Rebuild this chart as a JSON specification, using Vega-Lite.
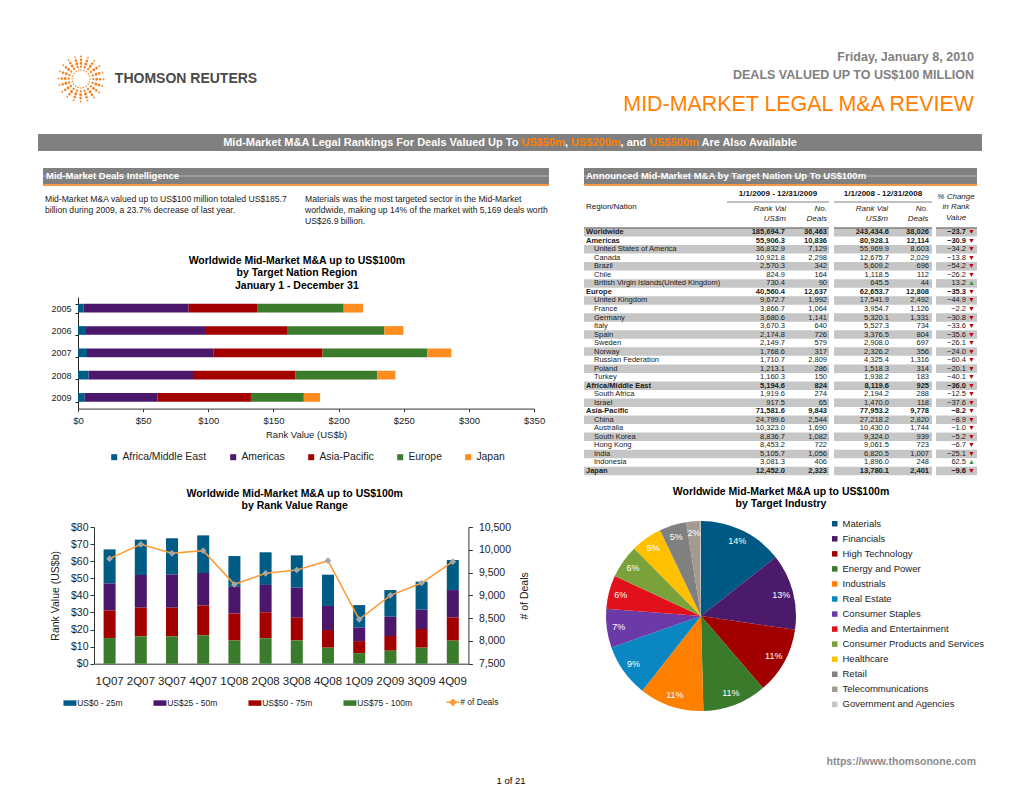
{
"$schema": "https://vega.github.io/schema/vega-lite/v6.json",
"padding": 0,
"background": "white",
"bounds": "flush",
"spacing": 0,
"config": {
  "font": "Liberation Sans",
  "view": {"stroke": null},
  "axis": {"domainColor": "#333333", "tickColor": "#333333", "labelColor": "#222222", "titleColor": "#222222", "grid": false},
  "title": {"color": "#000000"},
  "legend": {"labelColor": "#222222"}
},
"resolve": {"scale": {"color": "independent"}, "legend": {"color": "independent"}},
"datasets": {
  "regions": [
    {"year":"2005","region":"Africa/Middle East","value":4.3},{"year":"2005","region":"Americas","value":80.6},{"year":"2005","region":"Asia-Pacific","value":53.0},{"year":"2005","region":"Europe","value":66.0},{"year":"2005","region":"Japan","value":14.8},
    {"year":"2006","region":"Africa/Middle East","value":6.1},{"year":"2006","region":"Americas","value":92.1},{"year":"2006","region":"Asia-Pacific","value":62.2},{"year":"2006","region":"Europe","value":74.7},{"year":"2006","region":"Japan","value":14.6},
    {"year":"2007","region":"Africa/Middle East","value":6.9},{"year":"2007","region":"Americas","value":97.2},{"year":"2007","region":"Asia-Pacific","value":83.6},{"year":"2007","region":"Europe","value":80.4},{"year":"2007","region":"Japan","value":18.4},
    {"year":"2008","region":"Africa/Middle East","value":8.1},{"year":"2008","region":"Americas","value":80.9},{"year":"2008","region":"Asia-Pacific","value":78.0},{"year":"2008","region":"Europe","value":62.7},{"year":"2008","region":"Japan","value":13.8},
    {"year":"2009","region":"Africa/Middle East","value":5.2},{"year":"2009","region":"Americas","value":55.9},{"year":"2009","region":"Asia-Pacific","value":71.6},{"year":"2009","region":"Europe","value":40.6},{"year":"2009","region":"Japan","value":12.5}
  ],
  "quarters": [
    {"q":"1Q07","r":"US$0 - 25m","v":19.9},{"q":"1Q07","r":"US$25 - 50m","v":15.8},{"q":"1Q07","r":"US$50 - 75m","v":16.2},{"q":"1Q07","r":"US$75 - 100m","v":15.0},
    {"q":"2Q07","r":"US$0 - 25m","v":20.7},{"q":"2Q07","r":"US$25 - 50m","v":19.1},{"q":"2Q07","r":"US$50 - 75m","v":16.8},{"q":"2Q07","r":"US$75 - 100m","v":16.0},
    {"q":"3Q07","r":"US$0 - 25m","v":21.3},{"q":"3Q07","r":"US$25 - 50m","v":19.3},{"q":"3Q07","r":"US$50 - 75m","v":16.8},{"q":"3Q07","r":"US$75 - 100m","v":16.0},
    {"q":"4Q07","r":"US$0 - 25m","v":22.0},{"q":"4Q07","r":"US$25 - 50m","v":19.0},{"q":"4Q07","r":"US$50 - 75m","v":17.5},{"q":"4Q07","r":"US$75 - 100m","v":16.6},
    {"q":"1Q08","r":"US$0 - 25m","v":18.0},{"q":"1Q08","r":"US$25 - 50m","v":15.6},{"q":"1Q08","r":"US$50 - 75m","v":15.8},{"q":"1Q08","r":"US$75 - 100m","v":13.6},
    {"q":"2Q08","r":"US$0 - 25m","v":19.1},{"q":"2Q08","r":"US$25 - 50m","v":16.0},{"q":"2Q08","r":"US$50 - 75m","v":15.2},{"q":"2Q08","r":"US$75 - 100m","v":14.9},
    {"q":"3Q08","r":"US$0 - 25m","v":18.9},{"q":"3Q08","r":"US$25 - 50m","v":17.6},{"q":"3Q08","r":"US$50 - 75m","v":13.3},{"q":"3Q08","r":"US$75 - 100m","v":13.6},
    {"q":"4Q08","r":"US$0 - 25m","v":18.3},{"q":"4Q08","r":"US$25 - 50m","v":14.1},{"q":"4Q08","r":"US$50 - 75m","v":10.3},{"q":"4Q08","r":"US$75 - 100m","v":9.4},
    {"q":"1Q09","r":"US$0 - 25m","v":13.1},{"q":"1Q09","r":"US$25 - 50m","v":8.0},{"q":"1Q09","r":"US$50 - 75m","v":7.0},{"q":"1Q09","r":"US$75 - 100m","v":6.2},
    {"q":"2Q09","r":"US$0 - 25m","v":15.6},{"q":"2Q09","r":"US$25 - 50m","v":11.3},{"q":"2Q09","r":"US$50 - 75m","v":8.6},{"q":"2Q09","r":"US$75 - 100m","v":7.6},
    {"q":"3Q09","r":"US$0 - 25m","v":16.4},{"q":"3Q09","r":"US$25 - 50m","v":11.3},{"q":"3Q09","r":"US$50 - 75m","v":10.9},{"q":"3Q09","r":"US$75 - 100m","v":9.4},
    {"q":"4Q09","r":"US$0 - 25m","v":17.6},{"q":"4Q09","r":"US$25 - 50m","v":16.0},{"q":"4Q09","r":"US$50 - 75m","v":13.6},{"q":"4Q09","r":"US$75 - 100m","v":13.5}
  ],
  "deals": [
    {"q":"1Q07","n":9805},{"q":"2Q07","n":10120},{"q":"3Q07","n":9922},{"q":"4Q07","n":9981},
    {"q":"1Q08","n":9242},{"q":"2Q08","n":9483},{"q":"3Q08","n":9556},{"q":"4Q08","n":9761},
    {"q":"1Q09","n":8473},{"q":"2Q09","n":9000},{"q":"3Q09","n":9271},{"q":"4Q09","n":9739}
  ],
  "industry": [
    {"k":0,"ind":"Materials","share":0.144},
    {"k":1,"ind":"Financials","share":0.129},
    {"k":2,"ind":"High Technology","share":0.114},
    {"k":3,"ind":"Energy and Power","share":0.109},
    {"k":4,"ind":"Industrials","share":0.110},
    {"k":5,"ind":"Real Estate","share":0.090},
    {"k":6,"ind":"Consumer Staples","share":0.066},
    {"k":7,"ind":"Media and Entertainment","share":0.057},
    {"k":8,"ind":"Consumer Products and Services","share":0.057},
    {"k":9,"ind":"Healthcare","share":0.053},
    {"k":10,"ind":"Retail","share":0.046},
    {"k":11,"ind":"Telecommunications","share":0.023},
    {"k":12,"ind":"Government and Agencies","share":0.002}
  ],
  "table": [
    {"i":0,"name":"Worldwide","lvl":"R","rv09":185694.7,"nd09":36463,"rv08":243434.6,"nd08":38026,"pct":-23.7},
    {"i":1,"name":"Americas","lvl":"R","rv09":55906.3,"nd09":10836,"rv08":80928.1,"nd08":12114,"pct":-30.9},
    {"i":2,"name":"United States of America","lvl":"N","rv09":36832.9,"nd09":7129,"rv08":55969.9,"nd08":8603,"pct":-34.2},
    {"i":3,"name":"Canada","lvl":"N","rv09":10921.8,"nd09":2298,"rv08":12675.7,"nd08":2029,"pct":-13.8},
    {"i":4,"name":"Brazil","lvl":"N","rv09":2570.3,"nd09":342,"rv08":5609.2,"nd08":696,"pct":-54.2},
    {"i":5,"name":"Chile","lvl":"N","rv09":824.9,"nd09":164,"rv08":1118.5,"nd08":112,"pct":-26.2},
    {"i":6,"name":"British Virgin Islands(United Kingdom)","lvl":"N","rv09":730.4,"nd09":90,"rv08":645.5,"nd08":44,"pct":13.2},
    {"i":7,"name":"Europe","lvl":"R","rv09":40560.4,"nd09":12637,"rv08":62653.7,"nd08":12808,"pct":-35.3},
    {"i":8,"name":"United Kingdom","lvl":"N","rv09":9672.7,"nd09":1992,"rv08":17541.9,"nd08":2492,"pct":-44.9},
    {"i":9,"name":"France","lvl":"N","rv09":3866.7,"nd09":1064,"rv08":3954.7,"nd08":1126,"pct":-2.2},
    {"i":10,"name":"Germany","lvl":"N","rv09":3680.6,"nd09":1141,"rv08":5320.1,"nd08":1331,"pct":-30.8},
    {"i":11,"name":"Italy","lvl":"N","rv09":3670.3,"nd09":640,"rv08":5527.3,"nd08":734,"pct":-33.6},
    {"i":12,"name":"Spain","lvl":"N","rv09":2174.8,"nd09":726,"rv08":3376.5,"nd08":804,"pct":-35.6},
    {"i":13,"name":"Sweden","lvl":"N","rv09":2149.7,"nd09":579,"rv08":2908.0,"nd08":697,"pct":-26.1},
    {"i":14,"name":"Norway","lvl":"N","rv09":1768.6,"nd09":317,"rv08":2326.2,"nd08":356,"pct":-24.0},
    {"i":15,"name":"Russian Federation","lvl":"N","rv09":1710.7,"nd09":2809,"rv08":4325.4,"nd08":1316,"pct":-60.4},
    {"i":16,"name":"Poland","lvl":"N","rv09":1213.1,"nd09":286,"rv08":1518.3,"nd08":314,"pct":-20.1},
    {"i":17,"name":"Turkey","lvl":"N","rv09":1160.3,"nd09":150,"rv08":1938.2,"nd08":183,"pct":-40.1},
    {"i":18,"name":"Africa/Middle East","lvl":"R","rv09":5194.6,"nd09":824,"rv08":8119.6,"nd08":925,"pct":-36.0},
    {"i":19,"name":"South Africa","lvl":"N","rv09":1919.6,"nd09":274,"rv08":2194.2,"nd08":288,"pct":-12.5},
    {"i":20,"name":"Israel","lvl":"N","rv09":917.5,"nd09":65,"rv08":1470.0,"nd08":118,"pct":-37.6},
    {"i":21,"name":"Asia-Pacific","lvl":"R","rv09":71581.6,"nd09":9843,"rv08":77953.2,"nd08":9778,"pct":-8.2},
    {"i":22,"name":"China","lvl":"N","rv09":24799.6,"nd09":2544,"rv08":27218.2,"nd08":2820,"pct":-8.9},
    {"i":23,"name":"Australia","lvl":"N","rv09":10323.0,"nd09":1690,"rv08":10430.0,"nd08":1744,"pct":-1.0},
    {"i":24,"name":"South Korea","lvl":"N","rv09":8836.7,"nd09":1082,"rv08":9324.0,"nd08":939,"pct":-5.2},
    {"i":25,"name":"Hong Kong","lvl":"N","rv09":8453.2,"nd09":722,"rv08":9061.5,"nd08":723,"pct":-6.7},
    {"i":26,"name":"India","lvl":"N","rv09":5105.7,"nd09":1056,"rv08":6820.5,"nd08":1007,"pct":-25.1},
    {"i":27,"name":"Indonesia","lvl":"N","rv09":3081.3,"nd09":406,"rv08":1896.0,"nd08":248,"pct":62.5},
    {"i":28,"name":"Japan","lvl":"R","rv09":12452.0,"nd09":2323,"rv08":13780.1,"nd08":2401,"pct":-9.6}
  ]
},
"vconcat": [
  {"width": 10, "height": 56, "data": {"values": []}, "mark": "point"},
  {"hconcat": [
    {"width": 58, "height": 46, "data": {"values": []}, "mark": "point"},
    {"width": 46, "height": 46,
     "layer": [
       {"data": {"values": [{}]}, "mark": {"type": "arc", "theta": 0, "theta2": 6.2832, "outerRadius": 8.9, "filled": false, "stroke": "#f5821f", "strokeWidth": 1.5, "strokeDash": [0.01, 2.79], "strokeCap": "round"}, "encoding": {}},
       {"data": {"values": [{}]}, "mark": {"type": "arc", "theta": 0, "theta2": 6.2832, "outerRadius": 12.3, "filled": false, "stroke": "#f5821f", "strokeWidth": 2.3, "strokeDash": [0.01, 3.85], "strokeCap": "round"}, "encoding": {}},
       {"data": {"values": [{}]}, "mark": {"type": "arc", "theta": 0, "theta2": 6.2832, "outerRadius": 15.7, "filled": false, "stroke": "#f5821f", "strokeWidth": 3.0, "strokeDash": [0.01, 4.92], "strokeCap": "round"}, "encoding": {}},
       {"data": {"values": [{}]}, "mark": {"type": "arc", "theta": 0, "theta2": 6.2832, "outerRadius": 19.1, "filled": false, "stroke": "#f5821f", "strokeWidth": 2.6, "strokeDash": [0.01, 5.99], "strokeCap": "round"}, "encoding": {}},
       {"data": {"values": [{}]}, "mark": {"type": "arc", "theta": 0, "theta2": 6.2832, "outerRadius": 22.5, "filled": false, "stroke": "#f5821f", "strokeWidth": 1.8, "strokeDash": [0.01, 7.06], "strokeCap": "round"}, "encoding": {}}
     ]},
    {"width": 11, "height": 46, "data": {"values": []}, "mark": "point"},
    {"width": 142, "height": 46, "data": {"values": [{"t": "THOMSON REUTERS"}]},
     "mark": {"type": "text", "fontSize": 14, "fontWeight": "bold", "color": "#4a4a4a"},
     "encoding": {"text": {"field": "t"}}}
  ], "bounds": "flush", "spacing": 0},
  {"width": 10, "height": 78, "data": {"values": []}, "mark": "point"},
  {"hconcat": [
    {"width": 38, "height": 17, "data": {"values": []}, "mark": "point"},
    {"width": 944, "height": 17,
     "view": {"fill": "#808080"},
     "data": {"values": [{"t": "Mid-Market M&A Legal Rankings For Deals Valued Up To US$50m, US$200m, and US$500m Are Also Available"}]},
     "title": {"text": ["Friday, January 8, 2010", "DEALS VALUED UP TO US$100 MILLION"], "subtitle": "MID-MARKET LEGAL M&A REVIEW", "anchor": "end", "frame": "group", "dx": -8, "offset": 19, "fontSize": 12.5, "fontWeight": "bold", "color": "#7f7f7f", "lineHeight": 18, "subtitleFontSize": 21.4, "subtitleColor": "#ff8000", "subtitleFontWeight": "normal", "subtitlePadding": 12.5},
     "mark": {"type": "text", "fontSize": 11, "fontWeight": "bold",
       "fill": {"gradient": "linear", "x1": 0, "x2": 1, "y1": 0, "y2": 0, "stops": [
         {"offset": 0, "color": "#ffffff"}, {"offset": 0.521, "color": "#ffffff"},
         {"offset": 0.521, "color": "#ff8000"}, {"offset": 0.595, "color": "#ff8000"},
         {"offset": 0.595, "color": "#ffffff"}, {"offset": 0.607, "color": "#ffffff"},
         {"offset": 0.607, "color": "#ff8000"}, {"offset": 0.692, "color": "#ff8000"},
         {"offset": 0.692, "color": "#ffffff"}, {"offset": 0.743, "color": "#ffffff"},
         {"offset": 0.743, "color": "#ff8000"}, {"offset": 0.827, "color": "#ff8000"},
         {"offset": 0.827, "color": "#ffffff"}, {"offset": 1, "color": "#ffffff"}]}},
     "encoding": {"text": {"field": "t"}}}
  ], "bounds": "flush", "spacing": 0},
  {"width": 10, "height": 34, "data": {"values": []}, "mark": "point"},
  {"hconcat": [
    {"width": 43, "height": 1, "data": {"values": []}, "mark": "point"},
    {"vconcat": [
      {"width": 506, "height": 16, "view": {"fill": "#808080"}, "data": {"values": [{}]},
       "title": {"text": "Mid-Market Deals Intelligence", "orient": "bottom", "anchor": "start", "frame": "group", "baseline": "top", "offset": -13, "dx": 3, "fontSize": 9.5, "fontWeight": "bold", "color": "#ffffff"},
       "mark": {"type": "rule", "color": "#c4c4c4", "strokeWidth": 0.8},
       "encoding": {"y": {"datum": 0.5, "type": "quantitative", "scale": {"domain": [0, 1]}, "axis": null}}},
      {"width": 506, "height": 2, "view": {"fill": "#f79646"}, "data": {"values": []}, "mark": "point"},
      {"hconcat": [
        {"width": 2, "height": 1, "data": {"values": []}, "mark": "point"},
        {"width": 258, "height": 1, "data": {"values": []}, "mark": "point",
         "title": {"text": ["Mid-Market M&A valued up to US$100 million totaled US$185.7", "billion during 2009, a 23.7% decrease of last year."], "orient": "bottom", "anchor": "start", "frame": "group", "baseline": "top", "offset": 8, "fontSize": 8.6, "fontWeight": "normal", "lineHeight": 11, "color": "#222222"}},
        {"width": 2, "height": 1, "data": {"values": []}, "mark": "point"},
        {"width": 243, "height": 1, "data": {"values": []}, "mark": "point",
         "title": {"text": ["Materials was the most targeted sector in the Mid-Market", "worldwide, making up 14% of the market with 5,169 deals worth", "US$26.9 billion."], "orient": "bottom", "anchor": "start", "frame": "group", "baseline": "top", "offset": 8, "fontSize": 8.6, "fontWeight": "normal", "lineHeight": 11, "color": "#222222"}}
      ], "bounds": "flush", "spacing": 0},
      {"width": 1, "height": 110.7, "data": {"values": []}, "mark": "point"},
      {"hconcat": [
        {"width": 34.7, "height": 1, "data": {"values": []}, "mark": "point"},
        {"width": 456.1, "height": 111.6,
         "data": {"name": "regions"},
         "title": {"text": ["Worldwide Mid-Market M&A up to US$100m", "by Target Nation Region", "January 1 - December 31"], "fontSize": 10.5, "fontWeight": "bold", "lineHeight": 12.5, "anchor": "middle", "frame": "group", "dx": -9.2, "offset": 2},
         "mark": {"type": "bar"},
         "encoding": {
           "y": {"field": "year", "type": "ordinal", "scale": {"paddingInner": 0.61, "paddingOuter": 0.305}, "axis": {"title": null, "labelFontSize": 9, "labelPadding": 4, "tickSize": 3, "tickBand": "extent", "domainColor": "#222222", "tickColor": "#222222"}},
           "x": {"field": "value", "type": "quantitative", "stack": "zero", "scale": {"domain": [0, 350], "nice": false}, "axis": {"values": [0,50,100,150,200,250,300,350], "labelExpr": "'$' + datum.value", "title": "Rank Value (US$b)", "titleFontSize": 9.5, "titleFontWeight": "normal", "titlePadding": 4, "labelFontSize": 9.5, "labelPadding": 4, "tickSize": 3, "labelFlush": false, "labelOverlap": false}},
           "color": {"field": "region", "type": "nominal",
             "scale": {"domain": ["Africa/Middle East", "Americas", "Asia-Pacific", "Europe", "Japan"], "range": ["#005b85", "#4b176b", "#a30000", "#3b7b2c", "#ff8c1f"]},
             "legend": {"orient": "none", "legendX": 31, "legendY": 154.8, "direction": "horizontal", "title": null, "symbolType": "square", "symbolSize": 36, "labelFontSize": 10.4, "labelOffset": 3, "columnPadding": 21}}
         }}
      ], "bounds": "flush", "spacing": 0, "resolve": {"scale": {"color": "independent"}, "legend": {"color": "independent"}}}
    ], "bounds": "flush", "spacing": 0, "resolve": {"scale": {"color": "independent"}, "legend": {"color": "independent"}}},
    {"width": 541, "height": 1, "data": {"values": []}, "mark": "point"},
    {"vconcat": [
      {"width": 393, "height": 16, "view": {"fill": "#808080"}, "data": {"values": [{}]},
       "title": {"text": "Announced Mid-Market M&A by Target Nation Up To US$100m", "orient": "bottom", "anchor": "start", "frame": "group", "baseline": "top", "offset": -13, "dx": 2, "fontSize": 9.5, "fontWeight": "bold", "color": "#ffffff"},
       "mark": {"type": "rule", "color": "#c4c4c4", "strokeWidth": 0.8},
       "encoding": {"y": {"datum": 0.5, "type": "quantitative", "scale": {"domain": [0, 1]}, "axis": null}}},
      {"width": 393, "height": 2, "view": {"fill": "#f79646"}, "data": {"values": []}, "mark": "point"},
      {"hconcat": [
        {"vconcat": [
          {"width": 1, "height": 41.4, "data": {"values": []}, "mark": "point"},
          {"width": 143, "height": 247.2, "data": {"name": "table"},
           "title": {"text": "Region/Nation", "anchor": "start", "frame": "group", "dx": 2, "offset": 16.7, "fontSize": 8, "fontWeight": "normal", "color": "#111111"},
           "encoding": {"y": {"field": "i", "type": "ordinal", "axis": null, "scale": {"paddingInner": 0, "paddingOuter": 0}}},
           "layer": [
             {"transform": [{"filter": "datum.i % 2 == 0"}], "mark": {"type": "rect", "color": "#c6c6c6"}},
             {"transform": [{"filter": "datum.i == 0"}], "mark": {"type": "rule", "color": "#808080", "strokeWidth": 1.5}, "encoding": {"y": {"field": "i", "type": "ordinal", "bandPosition": 0, "axis": null}}},
             {"mark": {"type": "text", "align": "left", "fontSize": 7.5, "color": "#1a1a1a", "limit": 131, "ellipsis": "", "fontWeight": {"expr": "datum.lvl == 'R' ? 'bold' : 'normal'"}, "dx": {"expr": "datum.lvl == 'R' ? 2 : 10"}},
              "encoding": {"text": {"field": "name"}, "x": {"value": 0}}}
           ]}
        ], "bounds": "flush", "spacing": 0},
        {"width": 143, "height": 1, "data": {"values": []}, "mark": "point"},
        {"vconcat": [
          {"width": 1, "height": 14.7, "data": {"values": []}, "mark": "point"},
          {"width": 102, "height": 2, "view": {"fill": "#bfbfbf"}, "data": {"values": []}, "mark": "point",
           "title": {"text": "1/1/2009 - 12/31/2009", "anchor": "middle", "frame": "group", "offset": 3.4, "fontSize": 8, "fontWeight": "bold", "color": "#111111"}},
          {"width": 1, "height": 24.7, "data": {"values": []}, "mark": "point"},
          {"hconcat": [
            {"width": 58, "height": 247.2, "data": {"name": "table"},
             "title": {"text": ["Rank Val", "US$m"], "anchor": "end", "frame": "group", "dx": 1, "offset": 4.4, "fontSize": 8, "fontStyle": "italic", "fontWeight": "normal", "lineHeight": 10, "color": "#222222"},
             "encoding": {"y": {"field": "i", "type": "ordinal", "axis": null, "scale": {"paddingInner": 0, "paddingOuter": 0}}},
             "layer": [
               {"transform": [{"filter": "datum.i % 2 == 0"}], "mark": {"type": "rect", "color": "#c6c6c6"}},
               {"transform": [{"filter": "datum.i == 0"}], "mark": {"type": "rule", "color": "#808080", "strokeWidth": 1.5}, "encoding": {"y": {"field": "i", "type": "ordinal", "bandPosition": 0, "axis": null}}},
               {"mark": {"type": "text", "align": "right", "fontSize": 7.5, "color": "#1a1a1a", "fontWeight": {"expr": "datum.lvl == 'R' ? 'bold' : 'normal'"}},
                "encoding": {"text": {"field": "rv09", "type": "quantitative", "format": ",.1f"}, "x": {"value": "width"}}}
             ]},
            {"width": 44, "height": 247.2, "data": {"name": "table"},
             "title": {"text": ["No.", "Deals"], "anchor": "end", "frame": "group", "dx": -2, "offset": 4.4, "fontSize": 8, "fontStyle": "italic", "fontWeight": "normal", "lineHeight": 10, "color": "#222222"},
             "encoding": {"y": {"field": "i", "type": "ordinal", "axis": null, "scale": {"paddingInner": 0, "paddingOuter": 0}}},
             "layer": [
               {"transform": [{"filter": "datum.i % 2 == 0"}], "mark": {"type": "rect", "color": "#c6c6c6"}},
               {"transform": [{"filter": "datum.i == 0"}], "mark": {"type": "rule", "color": "#808080", "strokeWidth": 1.5}, "encoding": {"y": {"field": "i", "type": "ordinal", "bandPosition": 0, "axis": null}}},
               {"mark": {"type": "text", "align": "right", "dx": -2, "fontSize": 7.5, "color": "#1a1a1a", "fontWeight": {"expr": "datum.lvl == 'R' ? 'bold' : 'normal'"}},
                "encoding": {"text": {"field": "nd09", "type": "quantitative", "format": ",.0f"}, "x": {"value": "width"}}}
             ]}
          ], "bounds": "flush", "spacing": 0}
        ], "bounds": "flush", "spacing": 0},
        {"width": 107, "height": 1, "data": {"values": []}, "mark": "point"},
        {"vconcat": [
          {"width": 1, "height": 14.7, "data": {"values": []}, "mark": "point"},
          {"width": 98, "height": 2, "view": {"fill": "#bfbfbf"}, "data": {"values": []}, "mark": "point",
           "title": {"text": "1/1/2008 - 12/31/2008", "anchor": "middle", "frame": "group", "offset": 3.4, "fontSize": 8, "fontWeight": "bold", "color": "#111111"}},
          {"width": 1, "height": 24.7, "data": {"values": []}, "mark": "point"},
          {"hconcat": [
            {"width": 55, "height": 247.2, "data": {"name": "table"},
             "title": {"text": ["Rank Val", "US$m"], "anchor": "end", "frame": "group", "dx": -1, "offset": 4.4, "fontSize": 8, "fontStyle": "italic", "fontWeight": "normal", "lineHeight": 10, "color": "#222222"},
             "encoding": {"y": {"field": "i", "type": "ordinal", "axis": null, "scale": {"paddingInner": 0, "paddingOuter": 0}}},
             "layer": [
               {"transform": [{"filter": "datum.i % 2 == 0"}], "mark": {"type": "rect", "color": "#c6c6c6"}},
               {"transform": [{"filter": "datum.i == 0"}], "mark": {"type": "rule", "color": "#808080", "strokeWidth": 1.5}, "encoding": {"y": {"field": "i", "type": "ordinal", "bandPosition": 0, "axis": null}}},
               {"mark": {"type": "text", "align": "right", "fontSize": 7.5, "color": "#1a1a1a", "fontWeight": {"expr": "datum.lvl == 'R' ? 'bold' : 'normal'"}},
                "encoding": {"text": {"field": "rv08", "type": "quantitative", "format": ",.1f"}, "x": {"value": "width"}}}
             ]},
            {"width": 43, "height": 247.2, "data": {"name": "table"},
             "title": {"text": ["No.", "Deals"], "anchor": "end", "frame": "group", "dx": -3.7, "offset": 4.4, "fontSize": 8, "fontStyle": "italic", "fontWeight": "normal", "lineHeight": 10, "color": "#222222"},
             "encoding": {"y": {"field": "i", "type": "ordinal", "axis": null, "scale": {"paddingInner": 0, "paddingOuter": 0}}},
             "layer": [
               {"transform": [{"filter": "datum.i % 2 == 0"}], "mark": {"type": "rect", "color": "#c6c6c6"}},
               {"transform": [{"filter": "datum.i == 0"}], "mark": {"type": "rule", "color": "#808080", "strokeWidth": 1.5}, "encoding": {"y": {"field": "i", "type": "ordinal", "bandPosition": 0, "axis": null}}},
               {"mark": {"type": "text", "align": "right", "dx": -3, "fontSize": 7.5, "color": "#1a1a1a", "fontWeight": {"expr": "datum.lvl == 'R' ? 'bold' : 'normal'"}},
                "encoding": {"text": {"field": "nd08", "type": "quantitative", "format": ",.0f"}, "x": {"value": "width"}}}
             ]}
          ], "bounds": "flush", "spacing": 0}
        ], "bounds": "flush", "spacing": 0},
        {"width": 102, "height": 1, "data": {"values": []}, "mark": "point"},
        {"vconcat": [
          {"width": 1, "height": 41.4, "data": {"values": []}, "mark": "point"},
          {"hconcat": [
            {"width": 30, "height": 247.2, "data": {"name": "table"},
             "title": {"text": ["% Change", "in Rank", "Value"], "anchor": "middle", "frame": "group", "dx": 5, "offset": 5.4, "fontSize": 8, "fontStyle": "italic", "fontWeight": "normal", "lineHeight": 10.5, "color": "#222222"},
             "encoding": {"y": {"field": "i", "type": "ordinal", "axis": null, "scale": {"paddingInner": 0, "paddingOuter": 0}}},
             "layer": [
               {"transform": [{"filter": "datum.i % 2 == 0"}], "mark": {"type": "rect", "color": "#c6c6c6"}},
               {"transform": [{"filter": "datum.i == 0"}], "mark": {"type": "rule", "color": "#808080", "strokeWidth": 1.5}, "encoding": {"y": {"field": "i", "type": "ordinal", "bandPosition": 0, "axis": null}}},
               {"mark": {"type": "text", "align": "right", "fontSize": 7.5, "color": "#1a1a1a", "fontWeight": {"expr": "datum.lvl == 'R' ? 'bold' : 'normal'"}},
                "encoding": {"text": {"field": "pct", "type": "quantitative", "format": ".1f"}, "x": {"value": "width"}}}
             ]},
            {"width": 11, "height": 247.2, "data": {"name": "table"},
             "encoding": {"y": {"field": "i", "type": "ordinal", "axis": null, "scale": {"paddingInner": 0, "paddingOuter": 0}}},
             "layer": [
               {"transform": [{"filter": "datum.i % 2 == 0"}], "mark": {"type": "rect", "color": "#c6c6c6"}},
               {"transform": [{"filter": "datum.i == 0"}], "mark": {"type": "rule", "color": "#808080", "strokeWidth": 1.5}, "encoding": {"y": {"field": "i", "type": "ordinal", "bandPosition": 0, "axis": null}}},
               {"mark": {"type": "text", "fontSize": 7},
                "encoding": {"text": {"condition": {"test": "datum.pct < 0", "value": "▼"}, "value": "▲"}, "color": {"condition": {"test": "datum.pct < 0", "value": "#c00000"}, "value": "#339933"}}}
             ]}
          ], "bounds": "flush", "spacing": 0}
        ], "bounds": "flush", "spacing": 0}
      ], "bounds": "flush", "spacing": 0}
    ], "bounds": "flush", "spacing": 0}
  ], "bounds": "flush", "spacing": 0, "resolve": {"scale": {"color": "independent"}, "legend": {"color": "independent"}}},
  {"width": 10, "height": 353, "data": {"values": []}, "mark": "point"},
  {"hconcat": [
    {"width": 93.3, "height": 1, "data": {"values": []}, "mark": "point"},
    {"vconcat": [
      {"width": 1, "height": 6, "data": {"values": []}, "mark": "point"},
      {"width": 374.4, "height": 136.7,
       "title": {"text": ["Worldwide Mid-Market M&A up to US$100m", "by Rank Value Range"], "fontSize": 10.5, "fontWeight": "bold", "lineHeight": 12.7, "anchor": "middle", "frame": "group", "dx": 13.5, "offset": 10},
       "layer": [
         {"data": {"name": "quarters"}, "mark": {"type": "bar"},
          "encoding": {
            "x": {"field": "q", "type": "ordinal", "scale": {"domain": ["1Q07","2Q07","3Q07","4Q07","1Q08","2Q08","3Q08","4Q08","1Q09","2Q09","3Q09","4Q09"], "paddingInner": 0.615, "paddingOuter": 0.3075}, "axis": {"title": null, "labelAngle": 0, "labelFontSize": 11.5, "labelPadding": 12, "ticks": false, "domainColor": "#333333"}},
            "y": {"field": "v", "type": "quantitative", "stack": "zero", "scale": {"domain": [0, 80], "nice": false}, "axis": {"values": [0,10,20,30,40,50,60,70,80], "labelExpr": "'$' + datum.value", "title": "Rank Value (US$b)", "titleFontSize": 10.5, "titleFontWeight": "normal", "titlePadding": 10, "labelFontSize": 10.5, "tickSize": 4, "labelPadding": 2}},
            "color": {"field": "r", "type": "nominal",
              "scale": {"domain": ["US$0 - 25m", "US$25 - 50m", "US$50 - 75m", "US$75 - 100m", "# of Deals"], "range": ["#005b85", "#4b176b", "#a30000", "#3b7b2c", "#ff9933"]},
              "legend": {"orient": "none", "legendX": -28.3, "legendY": 170.7, "direction": "horizontal", "title": null, "labelFontSize": 8.5, "symbolSize": 169, "symbolType": "M-1,-0.42H1V0.42H-1Z", "labelOffset": 3, "columnPadding": 30,
                "encode": {"symbols": {"update": {
                  "shape": {"signal": "datum.label === '# of Deals' ? 'M-1,0H1M-0.45,0L0,-0.45L0.45,0L0,0.45Z' : 'M-1,-0.42H1V0.42H-1Z'"},
                  "stroke": {"signal": "datum.label === '# of Deals' ? '#ff9933' : 'transparent'"},
                  "strokeWidth": {"signal": "datum.label === '# of Deals' ? 1.5 : 0"}}}}}}
          }},
         {"data": {"name": "deals"},
          "encoding": {
            "x": {"field": "q", "type": "ordinal", "scale": {"domain": ["1Q07","2Q07","3Q07","4Q07","1Q08","2Q08","3Q08","4Q08","1Q09","2Q09","3Q09","4Q09"]}},
            "y": {"field": "n", "type": "quantitative", "scale": {"domain": [7500, 10500], "nice": false, "zero": false}, "axis": {"orient": "right", "values": [7500,8000,8500,9000,9500,10000,10500], "format": ",.0f", "title": "# of Deals", "titleAngle": 270, "titleFontSize": 10.5, "titleFontWeight": "normal", "titlePadding": 19, "labelFontSize": 10.5, "tickSize": 4, "labelPadding": 6}}
          },
          "layer": [
            {"mark": {"type": "line", "strokeWidth": 1.5}, "encoding": {"color": {"datum": "# of Deals"}}},
            {"mark": {"type": "point", "shape": "diamond", "filled": true, "color": "#a6a6a6", "size": 45, "opacity": 1}}
          ]}
       ],
       "resolve": {"scale": {"y": "independent"}}}
    ], "bounds": "flush", "spacing": 0, "resolve": {"scale": {"color": "independent"}, "legend": {"color": "independent"}}},
    {"width": 511.7, "height": 1, "data": {"values": []}, "mark": "point"},
    {"width": 190, "height": 190,
     "data": {"name": "industry"},
     "title": {"text": ["Worldwide Mid-Market M&A up to US$100m", "by Target Industry"], "fontSize": 10.5, "fontWeight": "bold", "lineHeight": 12.4, "anchor": "middle", "frame": "group", "dx": 80, "offset": 9},
     "encoding": {
       "theta": {"field": "share", "type": "quantitative", "stack": true},
       "order": {"field": "k", "type": "quantitative"},
       "color": {"field": "ind", "type": "nominal",
         "scale": {"domain": ["Materials", "Financials", "High Technology", "Energy and Power", "Industrials", "Real Estate", "Consumer Staples", "Media and Entertainment", "Consumer Products and Services", "Healthcare", "Retail", "Telecommunications", "Government and Agencies"],
                   "range": ["#005984", "#4b1a6b", "#a10000", "#3a7a2b", "#ff8000", "#0a86c3", "#6b3aa6", "#e1101a", "#7ba23a", "#ffc000", "#808080", "#a39a91", "#c6c6c6"]},
         "legend": {"orient": "none", "legendX": 224, "legendY": -2, "title": null, "symbolType": "square", "symbolSize": 30, "labelFontSize": 9.5, "rowPadding": 4.05, "labelOffset": 3}}
     },
     "layer": [
       {"mark": {"type": "arc", "outerRadius": 95}},
       {"mark": {"type": "text", "radius": 83, "fontSize": 9},
        "encoding": {"text": {"condition": {"test": "datum.share < 0.01", "value": ""}, "field": "share", "type": "quantitative", "format": ".0%"}, "color": {"value": "#ffffff"}}}
     ]}
  ], "bounds": "flush", "spacing": 0, "resolve": {"scale": {"color": "independent"}, "legend": {"color": "independent"}}},
  {"width": 10, "height": 234, "data": {"values": []}, "mark": "point"},
  {"hconcat": [
    {"width": 38, "height": 1, "data": {"values": []}, "mark": "point"},
    {"width": 938, "height": 1, "data": {"values": []}, "mark": "point",
     "title": {"text": "https://www.thomsonone.com", "orient": "bottom", "anchor": "end", "frame": "group", "baseline": "top", "offset": 1, "fontSize": 10.5, "fontWeight": "bold", "color": "#8c8c8c"}}
  ], "bounds": "flush", "spacing": 0},
  {"width": 10, "height": 19, "data": {"values": []}, "mark": "point"},
  {"hconcat": [
    {"width": 38, "height": 1, "data": {"values": []}, "mark": "point"},
    {"width": 946, "height": 1, "data": {"values": []}, "mark": "point",
     "title": {"text": "1 of 21", "orient": "bottom", "anchor": "middle", "frame": "group", "baseline": "top", "offset": 1, "fontSize": 9.5, "fontWeight": "normal", "color": "#000000"}}
  ], "bounds": "flush", "spacing": 0}
]
}
